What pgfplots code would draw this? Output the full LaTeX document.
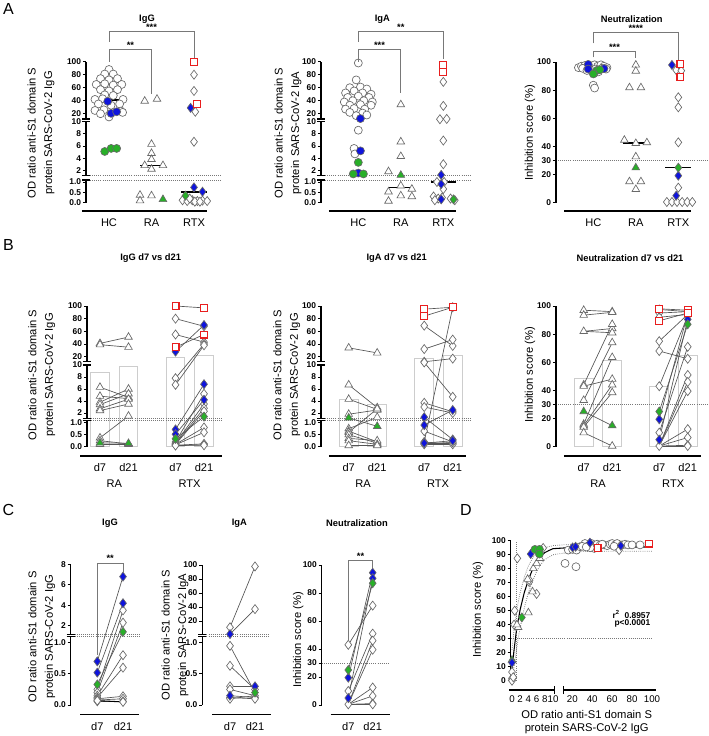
\documentclass[border=0pt]{standalone}
\usepackage{pgfplots}
\pgfplotsset{compat=1.18}
\usepackage{fontspec}
\setmainfont{Liberation Sans}
\definecolor{gm}{RGB}{105,105,105}
\definecolor{bm}{RGB}{15,20,220}
\definecolor{grm}{RGB}{40,175,40}
\definecolor{rm}{RGB}{232,30,30}
\definecolor{lnc}{RGB}{85,85,85}
\definecolor{brc}{RGB}{205,205,205}
\definecolor{bkc}{RGB}{120,120,120}
\tikzset{
 yax/.style={black,line width=0.9pt},
 xax/.style={black,line width=1.1pt},
 bk/.style={bkc,densely dotted,line width=0.55pt},
 sig/.style={bkc,line width=0.6pt},
 lett/.style={font=\fontsize{12}{14}\selectfont},
 ttl/.style={font=\bfseries\fontsize{7}{8}\selectfont},
 star/.style={font=\bfseries\fontsize{7}{8}\selectfont},
 ylab/.style={rotate=90,align=center,font=\fontsize{8.4}{12.5}\selectfont},
 grp/.style={font=\fontsize{8.3}{9}\selectfont},
}
\pgfplotsset{
 base/.style={scale only axis, clip=false, anchor=south west, axis lines*=left,
   axis line style={draw=none}, tick align=outside, major tick length=2.3pt,
   ytick style={black,line width=0.7pt}, xtick style={draw=none},
   yticklabel style={font=\bfseries\fontsize{6.3}{7}\selectfont, inner sep=1.2pt},
   xticklabel style={font=\fontsize{8.3}{9}\selectfont},
   /pgf/number format/assume math mode=true},
 brk/.style n args={6}{y coord trafo/.code={\pgfmathparse{##1<=#1 ? ##1*#2 : (##1<=10.5 ? #3+(##1-2)*#4 : #5+(##1-20)*#6)}}},
 mc/.style={only marks, mark=*, mark size=3pt, mark options={solid, draw=gm, fill=#1, line width=0.5pt}},
 mc/.default=white,
 mt/.style={only marks, mark=triangle*, mark size=3.3pt, mark options={solid, draw=gm, fill=#1, line width=0.5pt}},
 mt/.default=white,
 md/.style={only marks, mark=diamond*, mark size=3.4pt, mark options={solid, draw=gm, fill=#1, line width=0.5pt}},
 md/.default=white,
 ms/.style={only marks, mark=square*, mark size=2.6pt, mark options={solid, draw=rm, fill=white, line width=0.8pt}},
 med/.style={black, line width=0.9pt, no marks},
 pl/.style={lnc, line width=0.5pt, no marks},
 mybar/.style={ybar, /pgf/bar width=14pt, /pgf/bar shift=0pt, draw=brc, fill=white, line width=0.7pt},
}
\begin{document}
\begin{tikzpicture}
\useasboundingbox (0,0) rectangle (531.75pt,-552pt);

% ================= A IgG
\begin{axis}[base, brk={1.1}{20.7}{32.4}{6.075}{89}{0.65},
 at={(64.5pt,-158.25pt)}, x=31.875pt, y=0.75pt,
 xmin=-0.541, xmax=2.35, ymin=-0.401, ymax=100,
 xtick={0,1,2}, xticklabels={HC,RA,RTX},
 ytick={0,0.5,1,2,4,6,8,10,20,40,60,80,100},
 yticklabels={0.0,0.5,1.0,2,4,6,8,10,20,40,60,80,100}]
\draw[bk] (axis cs:-0.541,1.1)--(axis cs:2.65,1.1) (axis cs:-0.541,1.15)--(axis cs:2.65,1.15);
\draw[yax] (axis cs:-0.541,0)--(axis cs:-0.541,1.1) (axis cs:-0.541,1.15)--(axis cs:-0.541,10) (axis cs:-0.541,12)--(axis cs:-0.541,100);
\draw[yax] ([xshift=-3pt]axis cs:-0.541,1.1)--([xshift=3pt]axis cs:-0.541,1.1) ([xshift=-3pt]axis cs:-0.541,1.15)--([xshift=3pt]axis cs:-0.541,1.15) ([xshift=-3pt]axis cs:-0.541,10)--([xshift=3pt]axis cs:-0.541,10) ([xshift=-3pt]axis cs:-0.541,12)--([xshift=3pt]axis cs:-0.541,12);
\draw[xax] (axis cs:-0.64,-0.401)--(axis cs:2.3,-0.401);
\addplot[mc] coordinates {(0,88)(-0.1,81)(0.1,81)(-0.2,74)(0,72)(0.2,74)(-0.3,65)(-0.1,66)(0.1,64)(0.3,65)(-0.2,57)(0,55)(0.2,57)(-0.1,49)(0.1,48)(-0.33,42)(-0.15,43)(0.33,42)(-0.25,35)(0.25,35)(0.05,33)(-0.33,25)(-0.12,26)(0.28,24)(-0.2,20)(0.32,22)(0,15)};
\addplot[mc=bm] coordinates {(-0.03,39)(0.05,20.5)(0.18,23)};
\addplot[mc=grm] coordinates {(-0.1,5.1)(0.05,5.6)(0.18,5.6)};
\addplot[mt] coordinates {(0.84,39.5)(1.13,42.5)(1,6.3)(1,4.8)(1,3.8)(0.84,2.8)(1,2.2)(1.27,2.8)(0.73,0.37)(0.73,0.1)(1,0.34)};
\addplot[mt=grm] coordinates {(1.27,0.16)};
\addplot[md] coordinates {(2,80)(2,55)(2.03,23)(2,6.7)(1.73,0.12)(1.84,0.08)(1.96,0.12)(2.08,0.08)(2.2,0.1)(2.31,0.08)(1.9,0.2)(2.02,0.05)(2.14,0.05)};
\addplot[md=bm] coordinates {(1.92,29)(2,0.74)(2.2,0.53)};
\addplot[md=grm] coordinates {(1.8,0.34)};
\addplot[ms] coordinates {(2,100)(2.07,35)};
\addplot[med] coordinates {(-0.35,41)(0.35,41)};
\addplot[med] coordinates {(0.73,2.8)(1.27,2.8)};
\addplot[med] coordinates {(1.7,0.52)(2.3,0.52)};
\end{axis}

% ================= A IgA
\begin{axis}[base, brk={1.1}{20.7}{32.4}{6.075}{89}{0.65},
 at={(240.75pt,-158.25pt)}, x=31.875pt, y=0.75pt,
 xmin=-0.878, xmax=2.35, ymin=-0.401, ymax=100,
 xtick={0,1,2}, xticklabels={HC,RA,RTX},
 ytick={0,0.5,1,2,4,6,8,10,20,40,60,80,100},
 yticklabels={0.0,0.5,1.0,2,4,6,8,10,20,40,60,80,100}]
\draw[bk] (axis cs:-0.878,1.1)--(axis cs:2.67,1.1) (axis cs:-0.878,1.15)--(axis cs:2.67,1.15);
\draw[yax] (axis cs:-0.878,0)--(axis cs:-0.878,1.1) (axis cs:-0.878,1.15)--(axis cs:-0.878,10) (axis cs:-0.878,12)--(axis cs:-0.878,100);
\draw[yax] ([xshift=-3pt]axis cs:-0.878,1.1)--([xshift=3pt]axis cs:-0.878,1.1) ([xshift=-3pt]axis cs:-0.878,1.15)--([xshift=3pt]axis cs:-0.878,1.15) ([xshift=-3pt]axis cs:-0.878,10)--([xshift=3pt]axis cs:-0.878,10) ([xshift=-3pt]axis cs:-0.878,12)--([xshift=3pt]axis cs:-0.878,12);
\draw[xax] (axis cs:-0.69,-0.401)--(axis cs:2.31,-0.401);
\addplot[mc] coordinates {(0,98)(-0.05,72)(-0.2,60)(0.05,61)(0.2,58)(-0.3,52)(-0.1,55)(0.1,52)(0.3,50)(-0.25,45)(0,47)(0.25,45)(-0.33,38)(-0.13,40)(0.13,40)(0.33,38)(-0.2,33)(0.05,34)(0.3,33)(-0.3,27)(-0.1,28)(0.15,27)(-0.2,22)(0.1,21)(-0.05,17)(0.2,18)(0,8.6)(-0.1,5.6)(-0.08,4.7)};
\addplot[mc=bm] coordinates {(0.05,12.5)(0.05,5.2)(0,1.55)};
\addplot[mc=grm] coordinates {(0,3.3)(-0.12,1.4)(0.12,1.4)};
\addplot[mt] coordinates {(1,34)(1,6.7)(1,4.3)(0.71,1.8)(0.71,0.53)(0.71,0.08)(1,0.82)(1,0.34)(1.26,0.66)(1.26,0.3)};
\addplot[mt=grm] coordinates {(1,1.2)};
\addplot[md] coordinates {(2,69)(2,32)(1.92,11.5)(2.08,12)(2,6.9)(2,3)(1.85,1.0)(2.02,1.0)(2,0.66)(1.77,0.3)(1.88,0.2)(1.97,0.25)(2.17,0.2)(2.27,0.12)(1.8,0.12)};
\addplot[md=bm] coordinates {(1.95,1.25)(1.95,0.9)(1.95,0.16)};
\addplot[md=grm] coordinates {(2.24,0.16)};
\addplot[ms] coordinates {(2,95)(2,84)};
\addplot[med] coordinates {(-0.35,30)(0.35,30)};
\addplot[med] coordinates {(0.71,0.75)(1.29,0.75)};
\addplot[med] coordinates {(1.7,1.0)(2.3,1.0)};
\end{axis}

% ================= A Neutralization
\begin{axis}[base, at={(417pt,-158.25pt)}, x=31.875pt, y=1.05525pt,
 xmin=-0.878, xmax=2.35, ymin=-5.9, ymax=100,
 xtick={0,1,2}, xticklabels={HC,RA,RTX},
 ytick={0,20,30,40,60,80,100}]
\draw[bk] (axis cs:-0.878,30)--(axis cs:2.72,30);
\draw[yax] (axis cs:-0.878,0)--(axis cs:-0.878,100);
\draw[xax] (axis cs:-0.68,-5.9)--(axis cs:2.31,-5.9);
\addplot[mc] coordinates {(-0.35,96)(-0.28,97)(-0.2,97.5)(-0.05,97)(0.03,98)(0.1,97)(0.18,98)(0.25,97)(0.32,96)(-0.25,95.5)(-0.1,96)(0.05,95)(0.2,95.5)(0.3,95)(-0.15,94)(0.12,93)(0.02,92)(0,83.5)(0.03,81.5)};
\addplot[mc=bm] coordinates {(-0.12,98.3)(-0.12,95)(0.25,95.3)};
\addplot[mc=grm] coordinates {(0.08,94)(0,91.5)(0.15,94.5)};
\addplot[mt] coordinates {(1,97.9)(1,93.6)(0.85,81.8)(1.12,81.8)(0.73,44.5)(1,42.2)(1.26,42.7)(1,32.7)(0.85,15)(1.12,15)(1,9.5)};
\addplot[mt=grm] coordinates {(1,24.9)};
\addplot[md] coordinates {(1.95,94.3)(2.07,93.8)(2,74.9)(2,67.8)(2,42.9)(2,10.7)(1.73,0.5)(1.85,0.5)(1.97,0.5)(2.09,0.5)(2.21,0.5)(2.33,0.5)};
\addplot[md=bm] coordinates {(1.85,97.9)(2,19.2)(1.95,5)};
\addplot[md=grm] coordinates {(2,24.9)};
\addplot[ms] coordinates {(2.05,98.6)(2.05,89.6)};
\addplot[med] coordinates {(-0.35,96.5)(0.35,96.5)};
\addplot[med] coordinates {(0.71,42.5)(1.29,42.5)};
\addplot[med] coordinates {(1.69,24.9)(2.31,24.9)};
\end{axis}

% ================= B IgG
\begin{axis}[base, brk={1.1}{24}{33.7}{6}{90}{0.634},
 at={(65.25pt,-342pt)}, x=21.375pt, y=0.75pt,
 xmin=-0.456, xmax=4.3, ymin=-0.3875, ymax=100,
 xtick={0,1,2.65,3.65}, xticklabels={d7,d21,d7,d21},
 ytick={0,0.5,1,2,4,6,8,10,20,40,60,80,100},
 yticklabels={0.0,0.5,1.0,2,4,6,8,10,20,40,60,80,100}]
\addplot[mybar] coordinates {(0,8.7)(1,9.8)(2.65,19.5)(3.65,22.7)};
\draw[bk] (axis cs:-0.456,1.1)--(axis cs:4.27,1.1) (axis cs:-0.456,1.15)--(axis cs:4.27,1.15);
\draw[yax] (axis cs:-0.456,0)--(axis cs:-0.456,1.1) (axis cs:-0.456,1.15)--(axis cs:-0.456,10) (axis cs:-0.456,12)--(axis cs:-0.456,100);
\draw[yax] ([xshift=-3pt]axis cs:-0.456,1.1)--([xshift=3pt]axis cs:-0.456,1.1) ([xshift=-3pt]axis cs:-0.456,1.15)--([xshift=3pt]axis cs:-0.456,1.15) ([xshift=-3pt]axis cs:-0.456,10)--([xshift=3pt]axis cs:-0.456,10) ([xshift=-3pt]axis cs:-0.456,12)--([xshift=3pt]axis cs:-0.456,12);
\draw[xax] (axis cs:-0.7,-0.3875)--(axis cs:4.28,-0.3875);
\addplot[pl] coordinates {(0,41)(1,51)};
\addplot[pl] coordinates {(0,39)(1,35)};
\addplot[pl] coordinates {(0,6.3)(1,4.6)};
\addplot[pl] coordinates {(0,4.8)(1,4.4)};
\addplot[pl] coordinates {(0,3.8)(1,6.0)};
\addplot[pl] coordinates {(0,3.4)(1,5.2)};
\addplot[pl] coordinates {(0,2.7)(1,4.3)};
\addplot[pl] coordinates {(0,2.4)(1,3.5)};
\addplot[pl] coordinates {(0,0.37)(1,1.5)};
\addplot[pl] coordinates {(0,0.25)(1,0.12)};
\addplot[pl] coordinates {(0,0.1)(1,0.1)};
\addplot[pl] coordinates {(0,0.16)(1,0.14)};
\addplot[pl] coordinates {(2.65,100)(3.65,97)};
\addplot[pl] coordinates {(2.65,35)(3.65,55)};
\addplot[pl] coordinates {(2.65,28)(3.65,70)};
\addplot[pl] coordinates {(2.65,0.72)(3.65,6.8)};
\addplot[pl] coordinates {(2.65,0.52)(3.65,4.2)};
\addplot[pl] coordinates {(2.65,0.33)(3.65,1.4)};
\addplot[pl] coordinates {(2.65,80)(3.65,68)};
\addplot[pl] coordinates {(2.65,55)(3.65,43)};
\addplot[pl] coordinates {(2.65,7.8)(3.65,40)};
\addplot[pl] coordinates {(2.65,6.7)(3.65,38)};
\addplot[pl] coordinates {(2.65,0.2)(3.65,5.2)};
\addplot[pl] coordinates {(2.65,0.15)(3.65,3.5)};
\addplot[pl] coordinates {(2.65,0.12)(3.65,2.8)};
\addplot[pl] coordinates {(2.65,0.1)(3.65,2.3)};
\addplot[pl] coordinates {(2.65,0.1)(3.65,0.8)};
\addplot[pl] coordinates {(2.65,0.08)(3.65,0.6)};
\addplot[pl] coordinates {(2.65,0.06)(3.65,0.12)};
\addplot[pl] coordinates {(2.65,0.05)(3.65,0.08)};
\addplot[pl] coordinates {(2.65,0.05)(3.65,0.06)};
\addplot[mt] coordinates {(0,41)(0,39)(0,6.3)(0,4.8)(0,3.8)(0,3.4)(0,2.7)(0,2.4)(0,0.37)(0,0.25)(0,0.1)(1,51)(1,35)(1,4.6)(1,4.4)(1,6.0)(1,5.2)(1,4.3)(1,3.5)(1,1.5)(1,0.12)(1,0.1)};
\addplot[mt=grm] coordinates {(0,0.16)(1,0.14)};
\addplot[md] coordinates {(2.65,80)(2.65,55)(2.65,7.8)(2.65,6.7)(2.65,0.2)(2.65,0.15)(2.65,0.12)(2.65,0.1)(2.65,0.08)(2.65,0.06)(2.65,0.05)(3.65,68)(3.65,43)(3.65,40)(3.65,38)(3.65,5.2)(3.65,3.5)(3.65,2.8)(3.65,2.3)(3.65,0.8)(3.65,0.6)(3.65,0.12)(3.65,0.08)(3.65,0.06)};
\addplot[md=bm] coordinates {(2.65,28)(2.65,0.72)(2.65,0.52)(3.65,70)(3.65,6.8)(3.65,4.2)};
\addplot[md=grm] coordinates {(2.65,0.33)(3.65,1.4)};
\addplot[ms] coordinates {(2.65,100)(2.65,35)(3.65,97)(3.65,55)};
\end{axis}

% ================= B IgA
\begin{axis}[base, brk={1.1}{24}{33.7}{6}{90}{0.634},
 at={(240.75pt,-342pt)}, x=21.375pt, y=0.75pt,
 xmin=-0.972, xmax=4.1, ymin=-0.3875, ymax=100,
 xtick={0,1,2.65,3.65}, xticklabels={d7,d21,d7,d21},
 ytick={0,0.5,1,2,4,6,8,10,20,40,60,80,100},
 yticklabels={0.0,0.5,1.0,2,4,6,8,10,20,40,60,80,100}]
\addplot[mybar] coordinates {(0,4.3)(1,3.5)(2.65,16.5)(3.65,21.5)};
\draw[bk] (axis cs:-0.972,1.1)--(axis cs:4.27,1.1) (axis cs:-0.972,1.15)--(axis cs:4.27,1.15);
\draw[yax] (axis cs:-0.972,0)--(axis cs:-0.972,1.1) (axis cs:-0.972,1.15)--(axis cs:-0.972,10) (axis cs:-0.972,12)--(axis cs:-0.972,100);
\draw[yax] ([xshift=-3pt]axis cs:-0.972,1.1)--([xshift=3pt]axis cs:-0.972,1.1) ([xshift=-3pt]axis cs:-0.972,1.15)--([xshift=3pt]axis cs:-0.972,1.15) ([xshift=-3pt]axis cs:-0.972,10)--([xshift=3pt]axis cs:-0.972,10) ([xshift=-3pt]axis cs:-0.972,12)--([xshift=3pt]axis cs:-0.972,12);
\draw[xax] (axis cs:-0.7,-0.3875)--(axis cs:4.1,-0.3875);
\addplot[pl] coordinates {(0,34)(1,26)};
\addplot[pl] coordinates {(0,6.7)(1,2.9)};
\addplot[pl] coordinates {(0,4.3)(1,2.6)};
\addplot[pl] coordinates {(0,1.8)(1,2.5)};
\addplot[pl] coordinates {(0,0.75)(1,1.3)};
\addplot[pl] coordinates {(0,0.65)(1,0.2)};
\addplot[pl] coordinates {(0,0.6)(1,2.7)};
\addplot[pl] coordinates {(0,0.5)(1,0.15)};
\addplot[pl] coordinates {(0,0.35)(1,0.25)};
\addplot[pl] coordinates {(0,0.25)(1,0.1)};
\addplot[pl] coordinates {(0,0.05)(1,0.05)};
\addplot[pl] coordinates {(0,1.2)(1,0.85)};
\addplot[pl] coordinates {(2.65,95)(3.65,98)};
\addplot[pl] coordinates {(2.65,84)(3.65,98)};
\addplot[pl] coordinates {(2.65,1.3)(3.65,0.3)};
\addplot[pl] coordinates {(2.65,0.9)(3.65,2.5)};
\addplot[pl] coordinates {(2.65,0.15)(3.65,0.25)};
\addplot[pl] coordinates {(2.65,69)(3.65,37)};
\addplot[pl] coordinates {(2.65,32)(3.65,47)};
\addplot[pl] coordinates {(2.65,12)(3.65,17)};
\addplot[pl] coordinates {(2.65,11)(3.65,4.7)};
\addplot[pl] coordinates {(2.65,3.7)(3.65,2.2)};
\addplot[pl] coordinates {(2.65,3.0)(3.65,2.0)};
\addplot[pl] coordinates {(2.65,0.65)(3.65,0.2)};
\addplot[pl] coordinates {(2.65,0.2)(3.65,98)};
\addplot[pl] coordinates {(2.65,0.17)(3.65,0.15)};
\addplot[pl] coordinates {(2.65,0.12)(3.65,0.12)};
\addplot[pl] coordinates {(2.65,0.1)(3.65,0.1)};
\addplot[pl] coordinates {(2.65,0.1)(3.65,0.18)};
\addplot[mt] coordinates {(0,34)(0,6.7)(0,4.3)(0,1.8)(0,0.75)(0,0.65)(0,0.6)(0,0.5)(0,0.35)(0,0.25)(0,0.05)(1,26)(1,2.9)(1,2.6)(1,2.5)(1,1.3)(1,0.2)(1,2.7)(1,0.15)(1,0.25)(1,0.1)(1,0.05)};
\addplot[mt=grm] coordinates {(0,1.2)(1,0.85)};
\addplot[md] coordinates {(2.65,69)(2.65,32)(2.65,12)(2.65,11)(2.65,3.7)(2.65,3.0)(2.65,0.65)(2.65,0.2)(2.65,0.17)(2.65,0.12)(2.65,0.1)(3.65,37)(3.65,47)(3.65,17)(3.65,4.7)(3.65,2.2)(3.65,2.0)(3.65,0.2)(3.65,98)(3.65,0.15)(3.65,0.12)(3.65,0.1)(3.65,0.18)};
\addplot[md=bm] coordinates {(2.65,1.3)(2.65,0.9)(2.65,0.15)(3.65,0.3)(3.65,2.5)(3.65,0.25)};
\addplot[ms] coordinates {(2.65,95)(2.65,84)(3.65,98)};
\end{axis}

% ================= B Neutralization
\begin{axis}[base, at={(417pt,-342pt)}, x=21.375pt, y=1.05525pt,
 xmin=-0.972, xmax=4.1, ymin=-6.61, ymax=100,
 xtick={0,1,2.65,3.65}, xticklabels={d7,d21,d7,d21},
 ytick={0,20,30,40,60,80,100}]
\addplot[mybar] coordinates {(0,48.5)(1,61)(2.65,43)(3.65,65)};
\draw[bk] (axis cs:-0.972,30)--(axis cs:4.4,30);
\draw[yax] (axis cs:-0.972,0)--(axis cs:-0.972,100);
\draw[xax] (axis cs:-0.7,-6.61)--(axis cs:4.1,-6.61);
\addplot[pl] coordinates {(0,97)(1,96)};
\addplot[pl] coordinates {(0,93.5)(1,95.5)};
\addplot[pl] coordinates {(0,82)(1,84)};
\addplot[pl] coordinates {(0,82)(1,81)};
\addplot[pl] coordinates {(0,44)(1,87)};
\addplot[pl] coordinates {(0,43)(1,48)};
\addplot[pl] coordinates {(0,33)(1,74)};
\addplot[pl] coordinates {(0,16)(1,63.5)};
\addplot[pl] coordinates {(0,15)(1,44)};
\addplot[pl] coordinates {(0,14)(1,38.5)};
\addplot[pl] coordinates {(0,10)(1,0.5)};
\addplot[pl] coordinates {(0,25)(1,15)};
\addplot[pl] coordinates {(2.65,98)(3.65,97)};
\addplot[pl] coordinates {(2.65,89.5)(3.65,95)};
\addplot[pl] coordinates {(2.65,97.5)(3.65,96)};
\addplot[pl] coordinates {(2.65,19.5)(3.65,94.5)};
\addplot[pl] coordinates {(2.65,5)(3.65,90.5)};
\addplot[pl] coordinates {(2.65,25)(3.65,87)};
\addplot[pl] coordinates {(2.65,95)(3.65,96)};
\addplot[pl] coordinates {(2.65,92)(3.65,94)};
\addplot[pl] coordinates {(2.65,75)(3.65,94)};
\addplot[pl] coordinates {(2.65,68)(3.65,62.5)};
\addplot[pl] coordinates {(2.65,43)(3.65,93)};
\addplot[pl] coordinates {(2.65,10)(3.65,71)};
\addplot[pl] coordinates {(2.65,0.5)(3.65,51)};
\addplot[pl] coordinates {(2.65,0.5)(3.65,46)};
\addplot[pl] coordinates {(2.65,0.5)(3.65,39.5)};
\addplot[pl] coordinates {(2.65,0.5)(3.65,12.5)};
\addplot[pl] coordinates {(2.65,0.5)(3.65,6.5)};
\addplot[pl] coordinates {(2.65,0.5)(3.65,1)};
\addplot[pl] coordinates {(2.65,0.5)(3.65,0.5)};
\addplot[mt] coordinates {(0,97)(0,93.5)(0,82)(0,44)(0,43)(0,33)(0,16)(0,15)(0,14)(0,10)(1,96)(1,95.5)(1,84)(1,81)(1,87)(1,48)(1,74)(1,63.5)(1,44)(1,38.5)(1,0.5)};
\addplot[mt=grm] coordinates {(0,25)(1,15)};
\addplot[md] coordinates {(2.65,95)(2.65,92)(2.65,75)(2.65,68)(2.65,43)(2.65,10)(2.65,0.5)(3.65,96)(3.65,94)(3.65,62.5)(3.65,93)(3.65,71)(3.65,51)(3.65,46)(3.65,39.5)(3.65,12.5)(3.65,6.5)(3.65,1)(3.65,0.5)};
\addplot[md=bm] coordinates {(2.65,97.5)(2.65,19.5)(2.65,5)(3.65,96)(3.65,94.5)(3.65,90.5)};
\addplot[md=grm] coordinates {(2.65,25)(3.65,87)};
\addplot[ms] coordinates {(2.65,98)(2.65,89.5)(3.65,97)(3.65,95)};
\end{axis}

% ================= C IgG
\begin{axis}[base, brk={1.1}{62.3}{79.3}{10.23}{999}{0},
 at={(53.025pt,-535.725pt)}, x=19.275pt, y=0.75pt,
 xmin=-1.035, xmax=1.7, ymin=-0.149, ymax=8,
 xtick={0,1}, xticklabels={d7,d21},
 ytick={0,0.5,1,2,4,6,8}, yticklabels={0.0,0.5,1.0,2,4,6,8}]
\draw[bk] (axis cs:-1.035,1.1)--(axis cs:1.62,1.1) (axis cs:-1.035,1.15)--(axis cs:1.62,1.15);
\draw[yax] (axis cs:-1.035,0)--(axis cs:-1.035,1.1) (axis cs:-1.035,1.15)--(axis cs:-1.035,8);
\draw[yax] ([xshift=-3pt]axis cs:-1.035,1.1)--([xshift=3pt]axis cs:-1.035,1.1) ([xshift=-3pt]axis cs:-1.035,1.15)--([xshift=3pt]axis cs:-1.035,1.15);
\draw[xax] (axis cs:-0.67,-0.149)--(axis cs:1.63,-0.149);
\addplot[pl] coordinates {(0,0.7)(1,6.8)};
\addplot[pl] coordinates {(0,0.52)(1,4.2)};
\addplot[pl] coordinates {(0,0.33)(1,1.4)};
\addplot[pl] coordinates {(0,0.25)(1,3.5)};
\addplot[pl] coordinates {(0,0.2)(1,2.3)};
\addplot[pl] coordinates {(0,0.15)(1,0.8)};
\addplot[pl] coordinates {(0,0.12)(1,0.6)};
\addplot[pl] coordinates {(0,0.1)(1,0.14)};
\addplot[pl] coordinates {(0,0.08)(1,0.1)};
\addplot[pl] coordinates {(0,0.06)(1,0.06)};
\addplot[black,line width=0.8pt,no marks] coordinates {(0,0.07)(1,0.05)};
\addplot[md] coordinates {(0,0.25)(0,0.2)(0,0.15)(0,0.12)(0,0.1)(0,0.08)(0,0.06)(0,0.07)(1,3.5)(1,2.3)(1,0.8)(1,0.6)(1,0.14)(1,0.1)(1,0.06)(1,0.05)};
\addplot[md=bm] coordinates {(0,0.7)(0,0.52)(1,6.8)(1,4.2)};
\addplot[md=grm] coordinates {(0,0.33)(1,1.4)};
\end{axis}

% ================= C IgA
\begin{axis}[base, brk={1.1}{62.3}{71.4}{0.7}{84}{0.7},
 at={(151.725pt,-535.725pt)}, x=18.75pt, y=0.75pt,
 xmin=-1.108, xmax=1.7, ymin=-0.149, ymax=100,
 xtick={0,1}, xticklabels={d7,d21},
 ytick={0,0.5,1,20,40,60,80,100}, yticklabels={0.0,0.5,1.0,20,40,60,80,100}]
\draw[bk] (axis cs:-1.108,1.1)--(axis cs:1.6,1.1) (axis cs:-1.108,1.15)--(axis cs:1.6,1.15);
\draw[yax] (axis cs:-1.108,0)--(axis cs:-1.108,1.1) (axis cs:-1.108,1.15)--(axis cs:-1.108,100);
\draw[yax] ([xshift=-3pt]axis cs:-1.108,1.1)--([xshift=3pt]axis cs:-1.108,1.1) ([xshift=-3pt]axis cs:-1.108,1.15)--([xshift=3pt]axis cs:-1.108,1.15);
\draw[xax] (axis cs:-0.71,-0.149)--(axis cs:1.63,-0.149);
\addplot[pl] coordinates {(0,11)(1,98)};
\addplot[pl] coordinates {(0,1.3)(1,37)};
\addplot[pl] coordinates {(0,0.95)(1,0.2)};
\addplot[pl] coordinates {(0,0.63)(1,0.25)};
\addplot[pl] coordinates {(0,0.3)(1,0.3)};
\addplot[pl] coordinates {(0,0.25)(1,0.15)};
\addplot[pl] coordinates {(0,0.15)(1,0.12)};
\addplot[pl] coordinates {(0,0.12)(1,0.1)};
\addplot[pl] coordinates {(0,0.1)(1,0.15)};
\addplot[md] coordinates {(0,11)(0,0.95)(0,0.63)(0,0.3)(0,0.25)(0,0.12)(0,0.1)(1,98)(1,37)(1,0.25)(1,0.15)(1,0.12)(1,0.1)};
\addplot[md=bm] coordinates {(0,1.3)(0,0.15)(1,0.3)};
\addplot[md=grm] coordinates {(1,0.2)};
\end{axis}

% ================= C Neutralization
\begin{axis}[base, at={(241.275pt,-535.725pt)}, x=18.3pt, y=1.05pt,
 xmin=-1.09, xmax=1.75, ymin=-6.64, ymax=100,
 xtick={0,1}, xticklabels={d7,d21},
 ytick={0,20,30,40,60,80,100}]
\draw[bk] (axis cs:-1.09,30)--(axis cs:1.64,30);
\draw[yax] (axis cs:-1.09,0)--(axis cs:-1.09,100);
\draw[xax] (axis cs:-0.72,-6.64)--(axis cs:1.71,-6.64);
\addplot[pl] coordinates {(0,43)(1,71)};
\addplot[pl] coordinates {(0,25)(1,87)};
\addplot[pl] coordinates {(0,19.5)(1,94.5)};
\addplot[pl] coordinates {(0,5)(1,90.5)};
\addplot[pl] coordinates {(0,10)(1,51)};
\addplot[pl] coordinates {(0,0.5)(1,46)};
\addplot[pl] coordinates {(0,0.5)(1,39.5)};
\addplot[pl] coordinates {(0,0.5)(1,12.5)};
\addplot[pl] coordinates {(0,0.5)(1,6.5)};
\addplot[pl] coordinates {(0,0.5)(1,1)};
\addplot[pl] coordinates {(0,0.5)(1,0.5)};
\addplot[md] coordinates {(0,43)(0,10)(0,0.5)(1,71)(1,51)(1,46)(1,39.5)(1,12.5)(1,6.5)(1,1)(1,0.5)};
\addplot[md=bm] coordinates {(0,19.5)(0,5)(1,94.5)(1,90.5)};
\addplot[md=grm] coordinates {(0,25)(1,87)};
\end{axis}

% ================= D
\begin{axis}[base, at={(383.025pt,-517.5pt)}, x=0.75pt, y=1.05pt,
 x coord trafo/.code={\pgfmathparse{#1<=10.5 ? #1*4.1 : 60.3+(#1-20)*0.996}},
 xmin=-0.317, xmax=104.5, ymin=-6.64, ymax=100,
 xtick={0,2,4,6,8,10,20,40,60,80,100},
 xticklabels={0,2,4,6,8,10,20,40,60,80,100},
 xtick style={black,line width=0.7pt},
 xticklabel style={font=\fontsize{7.3}{9}\selectfont, inner sep=1.5pt},
 ytick={0,10,20,30,40,50,60,70,80,90,100}]
\draw[bk] (axis cs:1,0)--(axis cs:1,100);
\draw[bk] (axis cs:-0.317,30)--(axis cs:100,30);
\draw[yax] (axis cs:-0.317,0)--(axis cs:-0.317,100);
\draw[xax] (axis cs:-0.73,-6.64)--(axis cs:10.3,-6.64) (axis cs:11.2,-6.64)--(axis cs:104.5,-6.64);
\draw[xax] ([yshift=-3pt]axis cs:10.3,-6.64)--([yshift=3pt]axis cs:10.3,-6.64) ([yshift=-3pt]axis cs:11.2,-6.64)--([yshift=3pt]axis cs:11.2,-6.64);
\addplot[gray,densely dotted,line width=0.6pt,no marks] coordinates {(0,22)(0.5,36)(1,47)(1.5,56)(2,63)(3,74)(4,82)(5,87.5)(6,91)(7,93.5)(8,95)(10,96.5)(20,97.5)(40,98)(100,98.5)};
\addplot[gray,densely dotted,line width=0.6pt,no marks] coordinates {(0,0)(0.5,10)(1,20)(1.5,30)(2,38)(3,52)(4,63)(5,71)(6,78)(7,83)(8,86.5)(10,90)(20,92)(40,92.5)(100,92.5)};
\addplot[mc] coordinates {(12.7,83.8)(23.7,81.4)(16,93.3)(20.3,93.8)(24.3,93.3)(27.7,95.7)(32.7,98)(39.3,98)(35,96)(42,96.5)(45,97.5)(48,97)(52,97)(55,96.5)(58,97.5)(60,98)(63,97)(65,98)(70,97)(73,97.5)(76,97)(80,97)(88,97)(42,94.5)(38,95)(30,96)(50,97.5)(62,96)(34,95.5)};
\addplot[md] coordinates {(0,1.7)(0,0.5)(0,0)(0,6.2)(0.3,2.5)(0.65,50)(1,39)(1.3,87.4)(4.2,70.5)(4.2,72)(6,62)(7.6,94.8)(67,93.3)(0.5,40)};
\addplot[mt] coordinates {(1.5,38.1)(4,48.6)(5,63.6)(5.2,80.2)(6,83.8)(6.8,87.4)(3.8,72.5)(1.2,40)};
\addplot[mt=grm] coordinates {(0,14.8)};
\addplot[md=bm] coordinates {(0,12.9)(4.55,90.5)(20.3,95.2)(23.3,95.7)(37.7,98.6)(68.7,96.4)};
\addplot[md=grm] coordinates {(2.4,45.2)};
\addplot[mc=grm] coordinates {(5.6,93.8)(6.7,93.8)(6.7,90.5)};
\addplot[ms] coordinates {(45.3,94.5)(97.3,98)};
\addplot[black,line width=0.8pt,no marks] coordinates {(0,8)(0.5,22)(1,34)(1.5,43)(2,51)(3,63)(4,72)(5,79.5)(6,85)(7,89)(8,91.5)(9,93)(10,94.3)(20,95.2)(40,95.5)(60,95.5)(80,95.5)(100,95.5)};
\end{axis}

% ================= annotations (pixel coordinates)
\begin{scope}[x=0.75pt,y=-0.75pt]
\node[lett] at (8.5,9) {A};
\node[lett] at (8.5,245) {B};
\node[lett] at (8.5,510) {C};
\node[lett] at (466,510) {D};
% titles
\node[ttl] at (147,19.5) {IgG};
\node[ttl] at (382.3,19.5) {IgA};
\node[ttl] at (631.7,19) {Neutralization};
\node[ttl] at (150.7,258) {IgG d7 vs d21};
\node[ttl] at (396.7,258) {IgA d7 vs d21};
\node[ttl] at (630,258) {Neutralization d7 vs d21};
\node[ttl] at (110,523.3) {IgG};
\node[ttl] at (239.3,523.3) {IgA};
\node[ttl] at (357,523.3) {Neutralization};
% significance A
\draw[sig] (109,41.7)--(109,31.7)--(194,31.7)--(194,58.3);
\draw[sig] (109,61.7)--(109,49.3)--(151.7,49.3)--(151.7,94);
\node[star] at (151.5,27) {***};
\node[star] at (130.4,45) {**};
\draw[sig] (358.3,41.7)--(358.3,31.7)--(443.3,31.7)--(443.3,59.3);
\draw[sig] (358.3,61.7)--(358.3,49.3)--(400.7,49.3)--(400.7,93.3);
\node[star] at (400.8,27) {**};
\node[star] at (379.5,45) {***};
\draw[sig] (593.3,43.3)--(593.3,32.7)--(678.3,32.7)--(678.3,60);
\draw[sig] (593.3,57.3)--(593.3,51.7)--(635.7,51.7)--(635.7,58.3);
\node[star] at (635.8,28) {****};
\node[star] at (614.5,47) {***};
% significance C
\draw[sig] (97.3,655)--(97.3,563.3)--(123,563.3)--(123,573);
\node[star] at (110.2,558.5) {**};
\draw[sig] (348.3,640)--(348.3,560.7)--(372.7,560.7)--(372.7,568.3);
\node[star] at (360.5,556) {**};
% y labels
\node[ylab] at (41,133) {OD ratio anti-S1 domain S\\protein SARS-CoV-2 IgG};
\node[ylab] at (288,133) {OD ratio anti-S1 domain S\\protein SARS-CoV-2 IgA};
\node[ylab] at (530,133) {Inhibition score (\%)};
\node[ylab] at (41.7,375) {OD ratio anti-S1 domain S\\protein SARS-CoV-2 IgG};
\node[ylab] at (286.7,375) {OD ratio anti-S1 domain S\\protein SARS-CoV-2 IgG};
\node[ylab] at (530,375) {Inhibition score (\%)};
\node[ylab] at (41.7,636.7) {OD ratio anti-S1 domain S\\protein SARS-CoV-2 IgG};
\node[ylab] at (175,635) {OD ratio anti-S1 domain S\\protein SARS-CoV-2 IgA};
\node[ylab] at (298.3,640) {Inhibition score (\%)};
\node[ylab] at (478,610) {Inhibition score (\%)};
% B group labels
\node[grp] at (114.2,483.3) {RA};
\node[grp] at (189.5,483.3) {RTX};
\node[grp] at (363,483.3) {RA};
\node[grp] at (438,483.3) {RTX};
\node[grp] at (598,483.3) {RA};
\node[grp] at (673.2,483.3) {RTX};
% D texts
\node[align=center,font=\fontsize{8.4}{9.6}\selectfont] at (586.7,722) {OD ratio anti-S1 domain S\\protein SARS-CoV-2 IgG};
\node[anchor=east,font=\bfseries\fontsize{6.3}{7}\selectfont] at (655,614.5) {r\textsuperscript{2}\ \ 0.8957};
\node[anchor=east,font=\bfseries\fontsize{6.3}{7}\selectfont] at (655,623) {p<0.0001};
\end{scope}
\end{tikzpicture}
\end{document}
